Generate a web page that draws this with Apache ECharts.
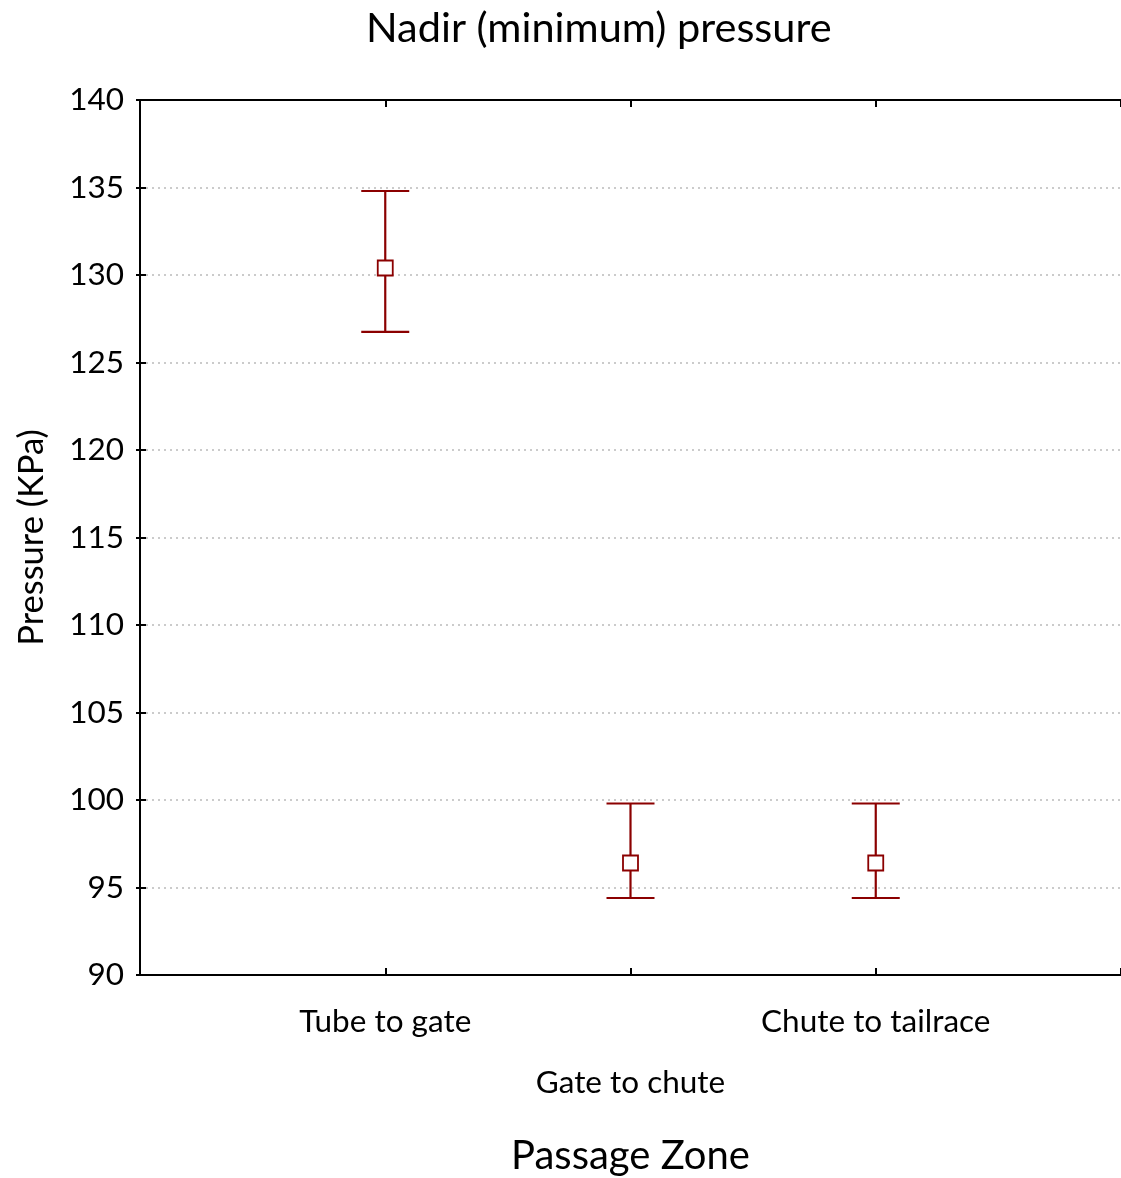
<!DOCTYPE html>
<html><head><meta charset="utf-8">
<script src="https://cdn.jsdelivr.net/npm/echarts@6/dist/echarts.min.js"></script>
<style>html,body{margin:0;padding:0;background:#fff}#c{width:1121px;height:1178px}</style>
</head><body><div id="c"></div>
<script>
const categories = ['Tube to gate', 'Gate to chute', 'Chute to tailrace'];
const means = [130.4, 96.4, 96.4];
const lower = [126.75, 94.4, 94.4];
const upper = [134.8, 99.8, 99.8];
const yTicks = [90, 95, 100, 105, 110, 115, 120, 125, 130, 135, 140];

const FONT = 'Lato, "Open Sans", sans-serif';
const RED = '#8B0000';
const chart = echarts.init(document.getElementById('c'));
const errData = categories.map((c, i) => [i + 1, lower[i], upper[i]]);
const ptData = categories.map((c, i) => [i + 1, means[i]]);

chart.setOption({
  animation: false,
  backgroundColor: '#fff',
  title: { text: 'Nadir (minimum) pressure', left: 361, top: 3,
    textStyle: { fontFamily: FONT, fontSize: 41.5, fontWeight: 'normal', color: '#000' } },
  grid: { left: 140, right: 0, top: 100, bottom: 203, containLabel: false, outerBoundsMode: 'none' },
  xAxis: [{
    type: 'value', min: 0, max: categories.length + 1, interval: 1,
    name: 'Passage Zone', nameLocation: 'middle', nameGap: 161,
    nameTextStyle: { fontFamily: FONT, fontSize: 40, color: '#000' },
    axisLine: { lineStyle: { color: '#000', width: 2 } },
    axisTick: { inside: true, length: 7, lineStyle: { color: '#000', width: 2 } },
    splitLine: { show: false },
    axisLabel: { margin: 31, fontFamily: FONT, fontSize: 31.5, color: '#000',
      formatter: v => { const c = categories[v - 1]; if (!c) return ''; return v === 2 ? '{b|' + c + '}' : '{a|' + c + '}'; },
      rich: { a: { fontFamily: FONT, fontSize: 31.5, color: '#000' },
              b: { fontFamily: FONT, fontSize: 31.5, color: '#000', padding: [61, 0, 0, 0] } } }
  }, {
    type: 'value', position: 'top', min: 0, max: categories.length + 1, interval: 1,
    axisLine: { lineStyle: { color: '#000', width: 2 } },
    axisTick: { inside: true, length: 7, lineStyle: { color: '#000', width: 2 } },
    axisLabel: { show: false }, splitLine: { show: false }
  }],
  yAxis: [{
    type: 'value', min: yTicks[0], max: yTicks[yTicks.length - 1], interval: 5,
    name: 'Pressure (KPa)', nameLocation: 'middle', nameGap: 91,
    nameTextStyle: { fontFamily: FONT, fontSize: 34.5, color: '#000' },
    axisLine: { show: true, lineStyle: { color: '#000', width: 2 } },
    axisTick: { show: true, inside: true, length: 6, lineStyle: { color: '#000', width: 2 } },
    axisLabel: { margin: 16, fontFamily: FONT, fontSize: 31.5, color: '#000' },
    splitLine: { show: true, lineStyle: { color: '#bbb', type: [2, 4], width: 1.5 } }
  }, {
    type: 'value', position: 'right', min: yTicks[0], max: yTicks[yTicks.length - 1], interval: 5,
    axisLine: { show: true, lineStyle: { color: '#000', width: 2 } },
    axisTick: { show: true, inside: true, length: 4, lineStyle: { color: '#000', width: 2 } },
    axisLabel: { show: false }, splitLine: { show: false }
  }],
  series: [{
    type: 'custom', data: errData, z: 2,
    renderItem: (params, api) => {
      const x = api.value(0);
      const lo = api.coord([x, api.value(1)]);
      const hi = api.coord([x, api.value(2)]);
      const hw = 24;
      const st = { stroke: RED, lineWidth: 2.2 };
      return { type: 'group', children: [
        { type: 'line', shape: { x1: lo[0], y1: lo[1], x2: hi[0], y2: hi[1] }, style: st },
        { type: 'line', shape: { x1: lo[0] - hw, y1: lo[1], x2: lo[0] + hw, y2: lo[1] }, style: st },
        { type: 'line', shape: { x1: hi[0] - hw, y1: hi[1], x2: hi[0] + hw, y2: hi[1] }, style: st }
      ] };
    }
  }, {
    type: 'scatter', data: ptData, z: 3, symbol: 'rect', symbolSize: 15,
    itemStyle: { color: '#fff', borderColor: RED, borderWidth: 1.8, opacity: 1 }
  }]
});
</script></body></html>
